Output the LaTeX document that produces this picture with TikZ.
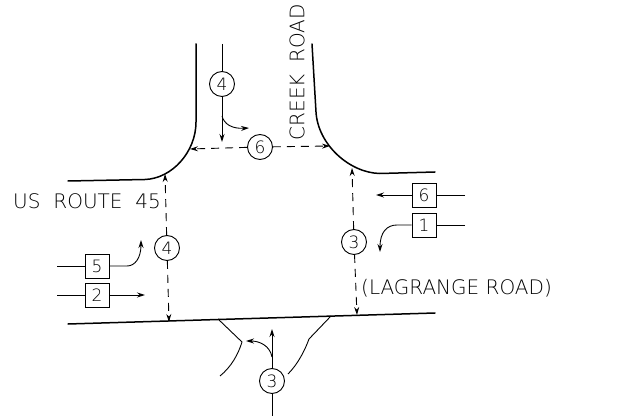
\documentclass[tikz,border=0pt]{standalone}
\usepackage{fontspec}
\setmainfont{Liberation Sans}
\newfontfamily\cadfont{DejaVu Sans ExtraLight}
\usetikzlibrary{arrows.meta}
\tikzset{
  curb/.style={line width=1.5pt,line cap=round},
  flow/.style={line width=0.9pt},
  tipped/.style={-{Stealth[length=8pt,width=5pt]}},
  gap/.style={line width=0.9pt,dash pattern=on 8pt off 6pt},
  numcircle/.style={circle,draw,line width=0.9pt,minimum size=25pt,inner sep=0pt,font=\fontsize{17}{17}\cadfont},
  numbox/.style={rectangle,draw,line width=0.9pt,minimum size=24pt,inner sep=0pt,font=\fontsize{17}{17}\cadfont},
  label/.style={inner sep=0pt,font=\fontsize{20}{20}\cadfont}
}
\begin{document}
\begin{tikzpicture}[x=1pt,y=-1pt]
\useasboundingbox (0,0) rectangle (638,417);
% curbs
\draw[curb] (196,44) -- (196,122) .. controls (196,152) and (172,178.5) .. (145,179.5) -- (68,181);
\draw[curb] (312,44) -- (316,112) .. controls (318,145) and (350,173) .. (380,173.5) -- (435,172);
\draw[curb] (68,324) -- (435,313);
% island
\draw[flow] (218,319) -- (242,342) .. controls (238,355) and (231,367) .. (220,376);
\draw[flow] (331,316) -- (309,339) .. controls (305,350) and (298,364) .. (288,374);
% nodes
\node[numcircle] (c4top) at (222,84) {4};
\node[numcircle] (c6) at (260,147) {6};
\node[numcircle] (c4left) at (167,248) {4};
\node[numcircle] (c3right) at (354,242) {3};
\node[numcircle] (c3bot) at (272,381) {3};
\node[numbox] (b6) at (424,195) {6};
\node[numbox] (b1) at (424,225) {1};
\node[numbox] (b5) at (97,266) {5};
\node[numbox] (b2) at (97,295) {2};
\node[label,rotate=90] (creek) at (297,72.5) {CREEK\hspace{5pt} ROAD};
\node[label,anchor=west] (route) at (13,201) {US\hspace{6.5pt} ROUTE\hspace{6.5pt} 45};
\node[label,anchor=west] (lag) at (361,288) {(LAGRANGE ROAD)};
% free ends
\coordinate (a) at (222,44);
\coordinate (b) at (222,142);
\coordinate (c) at (222,116);
\coordinate (d) at (249,128);
\coordinate (e) at (190,149);
\coordinate (f) at (330,146);
\coordinate (g) at (165,174);
\coordinate (h) at (169,322);
\coordinate (i) at (352,168);
\coordinate (j) at (357,315);
\coordinate (k) at (465,195);
\coordinate (l) at (376,195);
\coordinate (m) at (465,225);
\coordinate (n) at (380,252);
\coordinate (o) at (57,266);
\coordinate (p) at (141,240);
\coordinate (q) at (57,295);
\coordinate (r) at (145,295);
\coordinate (s) at (272,329);
\coordinate (t) at (272,416);
\coordinate (u) at (272,357);
\coordinate (v) at (246,341);
% connectors
\draw[flow] (a) -- (c4top);
\draw[flow,tipped] (c4top) -- (b);
\draw[flow,tipped] (c) .. controls (224,124) and (232,129) .. (d);
\draw[gap,tipped] (c6) -- (e);
\draw[gap,tipped] (c6) -- (f);
\draw[gap,tipped] (c4left) -- (g);
\draw[gap,tipped] (c4left) -- (h);
\draw[gap,tipped] (c3right) -- (i);
\draw[gap,tipped] (c3right) -- (j);
\draw[flow] (k) -- (b6);
\draw[flow,tipped] (b6) -- (l);
\draw[flow] (m) -- (b1);
\draw[flow,tipped] (b1) -- (397,225) .. controls (387,225) and (380,232) .. (n);
\draw[flow] (o) -- (b5);
\draw[flow,tipped] (b5) -- (127,266) .. controls (135,266) and (141,258) .. (p);
\draw[flow] (q) -- (b2);
\draw[flow,tipped] (b2) -- (r);
\draw[flow,tipped] (c3bot) -- (s);
\draw[flow] (c3bot) -- (t);
\draw[flow,tipped] (u) .. controls (270,346) and (260,341) .. (v);
\end{tikzpicture}
\end{document}
